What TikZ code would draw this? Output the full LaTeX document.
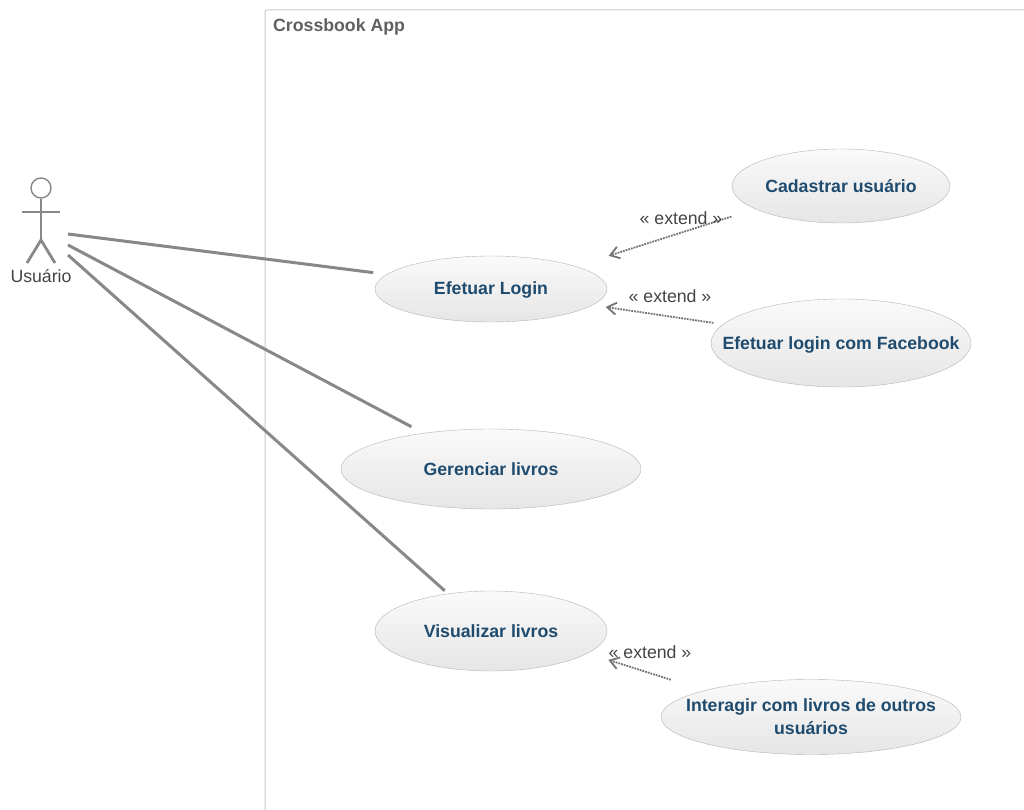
\documentclass[tikz,border=0pt]{standalone}
\usepackage{fontspec}
\setmainfont{Liberation Sans}
\usepackage{tikz}
\usetikzlibrary{arrows.meta,shapes.geometric}

\definecolor{umlline}{HTML}{888888}
\definecolor{umltext}{HTML}{1F4B6E}
\definecolor{umlgrey}{HTML}{444444}
\definecolor{umledge}{HTML}{B4B4B4}
\definecolor{umlbox}{HTML}{C8C8C8}

\tikzset{
	usecase/.style={ellipse,draw=umledge,top color=black!2,bottom color=black!10,inner xsep=-50pt,inner ysep=-8pt,
		align=center,text=umltext,font=\fontsize{17.7}{23}\selectfont\bfseries},
	extendtag/.style={text=umlgrey,inner sep=0pt,font=\fontsize{17.7}{22}\selectfont}
}

\begin{document}
\begin{tikzpicture}[x=1pt,y=-1pt]
		\useasboundingbox (0,0) rectangle (1024,810);
		
		% system boundary
		\draw [umlbox,line width=1pt,rounded corners=2pt] (265,811) -- (265,10) -- (1025,10);
		\node (title) [anchor=west,inner sep=0pt,text=umlgrey!85,font=\fontsize{17.7}{22}\selectfont\bfseries] at (273,27) {Crossbook App};
		
		% actor
		\begin{scope}[every path/.style={draw=umlline,line width=2.8pt}]
			\node (head) [circle,draw=umlline,line width=1.4pt,fill=white,minimum size=20pt,inner sep=0pt] at (41,188) {};
			\coordinate (hip) at (41,240);
			\coordinate (handL) at (22,212);
			\coordinate (handR) at (60,212);
			\coordinate (footL) at (27,263);
			\coordinate (footR) at (55,263);
			\draw (head) -- (hip);
			\draw (handL) -- (handR);
			\draw (footL) -- (hip) -- (footR);
		\end{scope}
		\node (user) [text=umlgrey,inner sep=0pt,font=\fontsize{17.7}{22}\selectfont] at (41,276) {Usuário};
		
		\begin{scope}[every node/.style={usecase}]
			\node (login) [minimum width=232pt,minimum height=66pt,text depth=1pt] at (491,289) {Efetuar Login};
			\node (manage) [minimum width=300pt,minimum height=80pt] at (491,469) {Gerenciar livros};
			\node (view) [minimum width=232pt,minimum height=80pt] at (491,631) {Visualizar livros};
			\node (signup) [minimum width=218pt,minimum height=74pt] at (841,186) {Cadastrar usuário};
			\node (facebook) [minimum width=260pt,minimum height=88pt,text depth=0pt] at (841,343) {Efetuar login com Facebook};
			\node (interact) [minimum width=300pt,minimum height=75pt] at (811,717) {Interagir com livros de outros\\usuários};
		\end{scope}
		
		% associations
		\coordinate (armA) at (68,234);
		\coordinate (armB) at (68,245);
		\coordinate (armC) at (68,255);
		\begin{scope}[every path/.style={draw=umlline,line width=3pt}]
			\draw [shorten >=13.6pt] (armA) -- (login.172.2);
			\draw [shorten >=13.6pt] (armB) -- (manage.152.4);
			\draw [shorten >=4.4pt] (armC) -- (view.139.7);
		\end{scope}
		
		% extends
		\begin{scope}[>={Straight Barb[length=9pt,width=12pt]},
					  every path/.style={draw=umlgrey!75,line width=1.8pt,densely dotted}]
			\draw [->,shorten <=25pt,shorten >=34.5pt] (signup.195.6) -- (login.15.1);
			\draw [->,shorten <=9.7pt,shorten >=13.2pt] (facebook.171.8) -- (login.351.9);
			\draw [->,shorten <=35.3pt,shorten >=21.7pt] (interact.166.5) -- (view.347);
		\end{scope}
		
		\begin{scope}[every node/.style={extendtag}]
			\node (tagsignup) at (681,218) {« extend »};
			\node (tagfacebook) at (670,296) {« extend »};
			\node (tagview) at (650,652) {« extend »};
		\end{scope}
\end{tikzpicture}
\end{document}
